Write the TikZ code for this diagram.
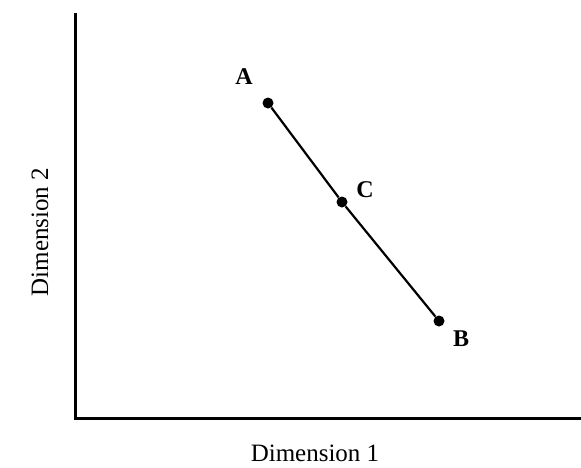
\documentclass[tikz,border=0pt]{standalone}
\usepackage{fontspec}
\setmainfont{Liberation Serif}
\begin{document}
\begin{tikzpicture}[x=1pt,y=-1pt,
  axis/.style={line width=3pt},
  seg/.style={line width=2.2pt},
  dot/.style={circle,fill=black,inner sep=0pt,minimum size=11pt},
  ptlabel/.style={font=\fontsize{24}{28}\selectfont\bfseries,inner sep=0pt},
  axlabel/.style={font=\fontsize{25}{30}\selectfont,inner sep=0pt}]
\useasboundingbox (0,0) rectangle (581,467);
\coordinate (top) at (75,13);
\coordinate (origin) at (75,418);
\coordinate (right) at (581,418);
\draw[axis] (top) -- (origin) -- (right);
\node[dot] (A) at (268,103) {};
\node[dot] (C) at (342,202) {};
\node[dot] (B) at (439,321) {};
\draw[seg] (A) -- (C) -- (B);
\node[ptlabel] (la) at (244,77) {A};
\node[ptlabel] (lc) at (365,190) {C};
\node[ptlabel] (lb) at (461,339) {B};
\node[axlabel,rotate=90] (dim2) at (40,232) {Dimension 2};
\node[axlabel] (dim1) at (315,453) {Dimension 1};
\end{tikzpicture}
\end{document}
